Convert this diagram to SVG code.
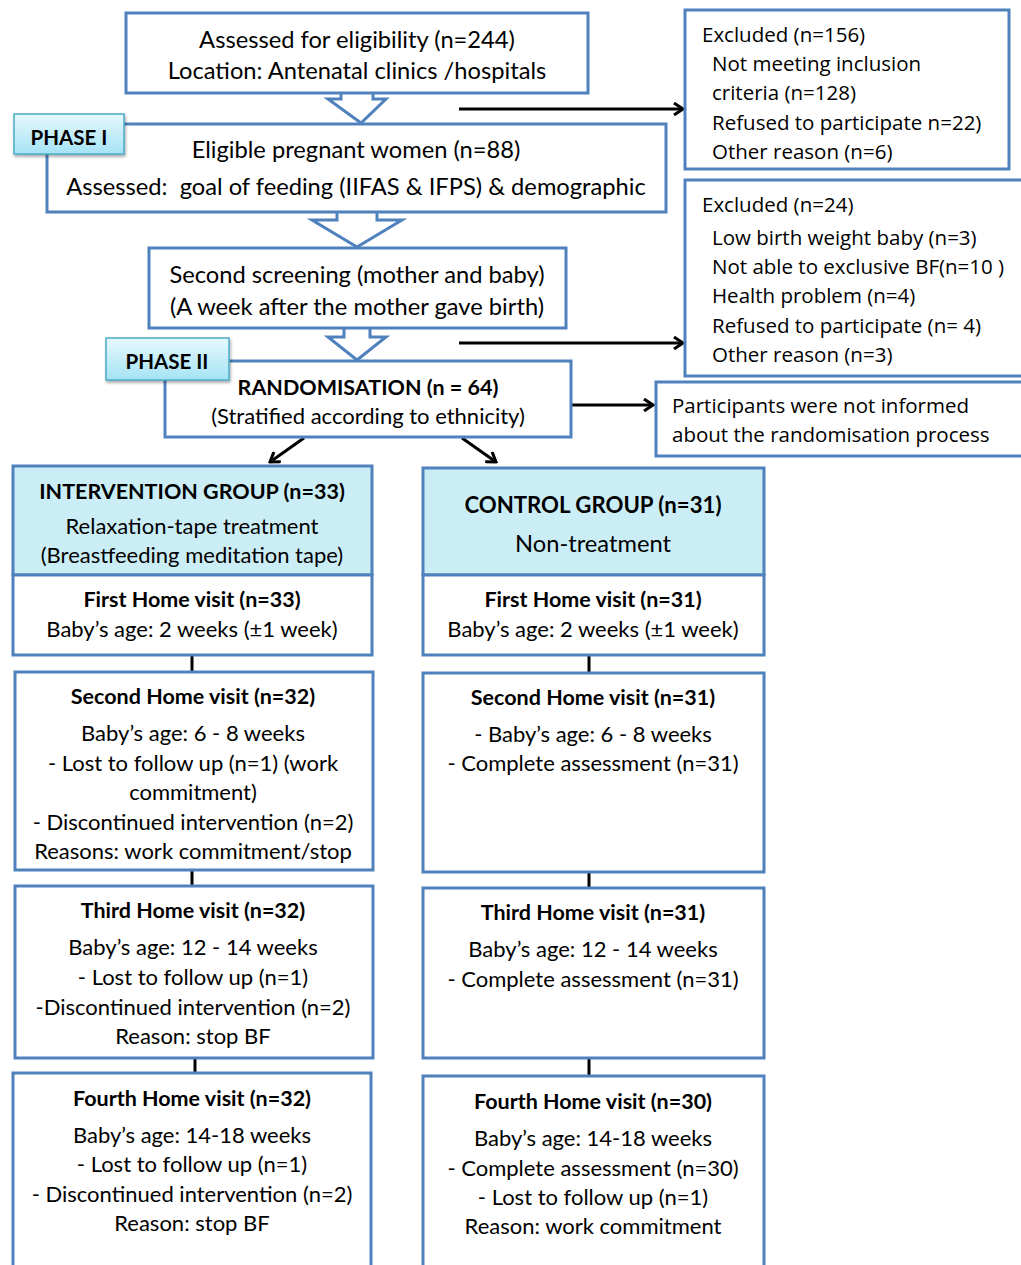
<svg xmlns="http://www.w3.org/2000/svg" width="1021" height="1265" viewBox="0 0 1021 1265">
  <defs>
    <style>
      .box { fill: #ffffff; stroke: #4F81BD; stroke-width: 3; }
      .hdr { fill: #CBEEF6; stroke: #4F81BD; stroke-width: 3; }
      .blk { fill: #ffffff; stroke: #4F81BD; stroke-width: 3; stroke-linejoin: miter; }
      .tag { fill: url(#tagFill); stroke: #4BACC6; stroke-width: 1.5; filter: url(#tagShadow); }
      .t { font-family: Lato, "Liberation Sans", sans-serif; font-size: 22px; fill: #000; text-anchor: middle; }
      .lg { font-size: 23.7px; }
      .b { font-weight: bold; font-size: 21.5px; }
      .r { font-family: "Open Sans", "Noto Sans", sans-serif; font-size: 20.5px; fill: #000; }
      .tg { font-family: Lato, "Liberation Sans", sans-serif; font-size: 20.5px; font-weight: bold; fill: #000; text-anchor: middle; }
      .ln { stroke: #000; stroke-width: 3; fill: none; }
      .ar { stroke: #000; stroke-width: 3; fill: none; marker-end: url(#head); }
    </style>
    <linearGradient id="tagFill" x1="0" y1="0" x2="0" y2="1">
      <stop offset="0" stop-color="#E6F8FD"/>
      <stop offset="1" stop-color="#A5E3F5"/>
    </linearGradient>
    <filter id="tagShadow" x="-20%" y="-20%" width="140%" height="150%">
      <feDropShadow dx="1" dy="2" stdDeviation="1.5" flood-color="#000" flood-opacity="0.35"/>
    </filter>
    <marker id="head" markerWidth="12" markerHeight="14" refX="10" refY="7" orient="auto" markerUnits="userSpaceOnUse">
      <path d="M1,1 L10,7 L1,13" fill="none" stroke="#000" stroke-width="3"/>
    </marker>
  </defs>

  <!-- connectors -->
  <g id="connectors">
    <!-- block arrows between screening stages -->
    <path class="blk" d="M341,92 L341,99 L328,99 L361,123 L386,99 L373,99 L373,92"/>
    <path class="blk" d="M337,212 L337,220 L312,220 L357,247 L402,220 L377,220 L377,212"/>
    <path class="blk" d="M344,327 L344,337 L328,337 L357,360 L386,337 L370,337 L370,327"/>
    <!-- exclusions -->
    <line class="ar" x1="459" y1="109" x2="683" y2="109"/>
    <line class="ar" x1="459" y1="343" x2="683" y2="343"/>
    <line class="ar" x1="572" y1="405" x2="653" y2="405"/>
    <!-- randomisation split -->
    <line class="ar" x1="304" y1="438" x2="270" y2="462"/>
    <line class="ar" x1="462" y1="438" x2="496" y2="462"/>
    <!-- visit links -->
    <line class="ln" x1="192" y1="655" x2="192" y2="672"/>
    <line class="ln" x1="589" y1="655" x2="589" y2="673"/>
    <line class="ln" x1="192" y1="870" x2="192" y2="886"/>
    <line class="ln" x1="589" y1="872" x2="589" y2="888"/>
    <line class="ln" x1="195" y1="1058" x2="195" y2="1073"/>
    <line class="ln" x1="589" y1="1058" x2="589" y2="1076"/>
  </g>

  <!-- screening stages -->
  <g id="assessed">
    <rect class="box" x="126" y="13" width="462" height="80"/>
    <text class="t lg" x="357" y="48">Assessed for eligibility (n=244)</text>
    <text class="t lg" x="357" y="79">Location: Antenatal clinics /hospitals</text>
  </g>
  <g id="eligible">
    <rect class="box" x="47" y="124" width="619" height="88"/>
    <text class="t lg" x="356" y="158">Eligible pregnant women (n=88)</text>
    <text class="t lg" x="356" y="195">Assessed:&#160; goal of feeding (IIFAS &amp; IFPS) &amp; demographic</text>
  </g>
  <g id="phase1">
    <rect class="tag" x="14" y="114" width="110" height="40"/>
    <text class="tg" x="69" y="145">PHASE I</text>
  </g>
  <g id="second-screening">
    <rect class="box" x="149" y="248" width="417" height="80"/>
    <text class="t lg" x="357" y="283">Second screening (mother and baby)</text>
    <text class="t lg" x="357" y="315">(A week after the mother gave birth)</text>
  </g>
  <g id="randomisation">
    <rect class="box" x="165" y="361" width="406" height="76"/>
    <text class="t b" x="368" y="395">RANDOMISATION (n = 64)</text>
    <text class="t" x="368" y="424">(Stratified according to ethnicity)</text>
  </g>
  <g id="phase2">
    <rect class="tag" x="106" y="338" width="123" height="42"/>
    <text class="tg" x="167" y="369">PHASE II</text>
  </g>

  <!-- exclusion notes -->
  <g id="excluded-1">
    <rect class="box" x="685" y="10" width="324" height="159"/>
    <text class="r" x="702" y="42">Excluded (n=156)</text>
    <text class="r" x="712" y="71">Not meeting inclusion</text>
    <text class="r" x="712" y="100">criteria (n=128)</text>
    <text class="r" x="712" y="130">Refused to participate n=22)</text>
    <text class="r" x="712" y="159">Other reason (n=6)</text>
  </g>
  <g id="excluded-2">
    <rect class="box" x="685" y="180" width="340" height="196"/>
    <text class="r" x="702" y="212">Excluded (n=24)</text>
    <text class="r" x="712" y="245">Low birth weight baby (n=3)</text>
    <text class="r" x="712" y="274">Not able to exclusive BF(n=10 )</text>
    <text class="r" x="712" y="303">Health problem (n=4)</text>
    <text class="r" x="712" y="333">Refused to participate (n= 4)</text>
    <text class="r" x="712" y="362">Other reason (n=3)</text>
  </g>
  <g id="blinding">
    <rect class="box" x="656" y="382" width="370" height="74"/>
    <text class="r" x="672" y="413">Participants were not informed</text>
    <text class="r" x="672" y="442">about the randomisation process</text>
  </g>

  <!-- intervention arm -->
  <g id="intervention">
    <rect class="hdr" x="13" y="466" width="359" height="109"/>
    <text class="t b" x="192" y="499">INTERVENTION GROUP (n=33)</text>
    <text class="t" x="192" y="534">Relaxation-tape treatment</text>
    <text class="t" x="192" y="563">(Breastfeeding meditation tape)</text>
  </g>
  <g id="int-visit-1">
    <rect class="box" x="13" y="575" width="359" height="80"/>
    <text class="t b" x="192" y="607">First Home visit (n=33)</text>
    <text class="t" x="192" y="637">Baby’s age: 2 weeks (±1 week)</text>
  </g>
  <g id="int-visit-2">
    <rect class="box" x="15" y="672" width="358" height="198"/>
    <text class="t b" x="193" y="704">Second Home visit (n=32)</text>
    <text class="t" x="193" y="741">Baby’s age: 6 - 8 weeks</text>
    <text class="t" x="193" y="771">- Lost to follow up (n=1) (work</text>
    <text class="t" x="193" y="800">commitment)</text>
    <text class="t" x="193" y="830">- Discontinued intervention (n=2)</text>
    <text class="t" x="193" y="859">Reasons: work commitment/stop</text>
  </g>
  <g id="int-visit-3">
    <rect class="box" x="15" y="886" width="358" height="172"/>
    <text class="t b" x="193" y="918">Third Home visit (n=32)</text>
    <text class="t" x="193" y="955">Baby’s age: 12 - 14 weeks</text>
    <text class="t" x="193" y="985">- Lost to follow up (n=1)</text>
    <text class="t" x="193" y="1015">-Discontinued intervention (n=2)</text>
    <text class="t" x="193" y="1044">Reason: stop BF</text>
  </g>
  <g id="int-visit-4">
    <rect class="box" x="13" y="1073" width="358" height="200"/>
    <text class="t b" x="192" y="1106">Fourth Home visit (n=32)</text>
    <text class="t" x="192" y="1143">Baby’s age: 14-18 weeks</text>
    <text class="t" x="192" y="1172">- Lost to follow up (n=1)</text>
    <text class="t" x="192" y="1202">- Discontinued intervention (n=2)</text>
    <text class="t" x="192" y="1231">Reason: stop BF</text>
  </g>

  <!-- control arm -->
  <g id="control">
    <rect class="hdr" x="423" y="468" width="341" height="107"/>
    <text class="t b" x="593" y="513" style="font-size:22.2px">CONTROL GROUP (n=31)</text>
    <text class="t lg" x="593" y="552">Non-treatment</text>
  </g>
  <g id="ctl-visit-1">
    <rect class="box" x="423" y="575" width="341" height="80"/>
    <text class="t b" x="593" y="607">First Home visit (n=31)</text>
    <text class="t" x="593" y="637">Baby’s age: 2 weeks (±1 week)</text>
  </g>
  <g id="ctl-visit-2">
    <rect class="box" x="423" y="673" width="341" height="199"/>
    <text class="t b" x="593" y="705">Second Home visit (n=31)</text>
    <text class="t" x="593" y="742">- Baby’s age: 6 - 8 weeks</text>
    <text class="t" x="593" y="771">- Complete assessment (n=31)</text>
  </g>
  <g id="ctl-visit-3">
    <rect class="box" x="423" y="888" width="341" height="170"/>
    <text class="t b" x="593" y="920">Third Home visit (n=31)</text>
    <text class="t" x="593" y="957">Baby’s age: 12 - 14 weeks</text>
    <text class="t" x="593" y="987">- Complete assessment (n=31)</text>
  </g>
  <g id="ctl-visit-4">
    <rect class="box" x="423" y="1076" width="341" height="200"/>
    <text class="t b" x="593" y="1109">Fourth Home visit (n=30)</text>
    <text class="t" x="593" y="1146">Baby’s age: 14-18 weeks</text>
    <text class="t" x="593" y="1176">- Complete assessment (n=30)</text>
    <text class="t" x="593" y="1205">- Lost to follow up (n=1)</text>
    <text class="t" x="593" y="1234">Reason: work commitment</text>
  </g>
</svg>
